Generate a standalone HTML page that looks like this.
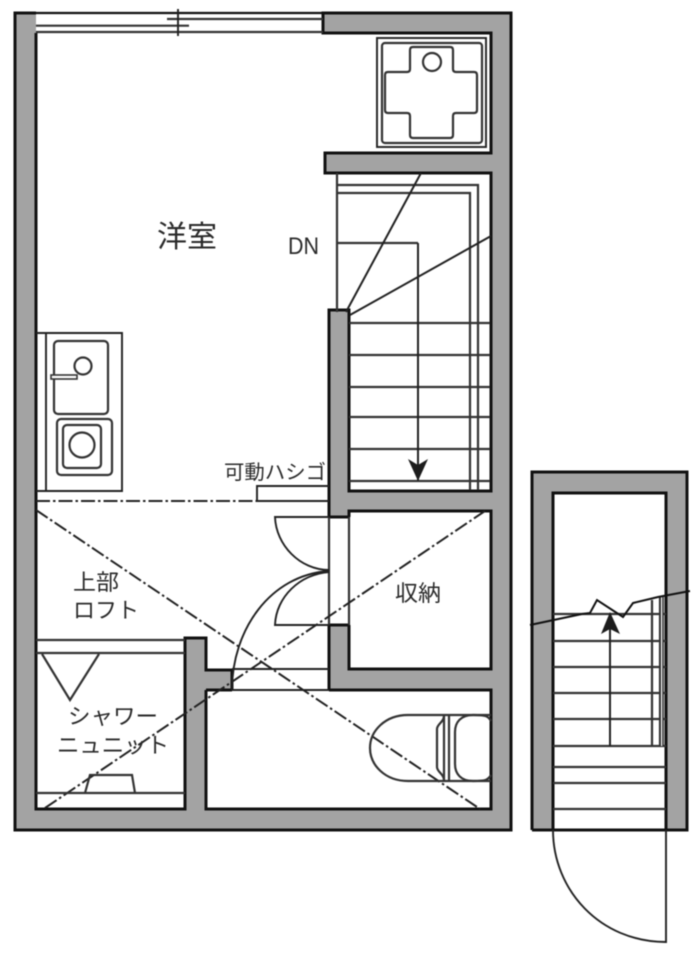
<!DOCTYPE html>
<html><head><meta charset="utf-8">
<style>
html,body{margin:0;padding:0;background:#fff;width:700px;height:953px;overflow:hidden}
svg{display:block;filter:blur(0.5px)}
text{font-family:"Liberation Sans","Noto Sans CJK JP",sans-serif;fill:#2a2a2a}
.w{fill:#a3a3a3;stroke:none}
.k{fill:none;stroke:#111;stroke-width:3}
.l{fill:none;stroke:#222;stroke-width:1.9}
.g{fill:none;stroke:#333;stroke-width:2.2}
.d{fill:none;stroke:#222;stroke-width:2;stroke-dasharray:14 3 2.5 3}
</style></head><body>
<svg width="700" height="953" viewBox="0 0 700 953" xmlns="http://www.w3.org/2000/svg">
<!-- main walls -->
<path class="w" d="M15 13H36V809H185V638H206V670H232V690H206V809H491V690H329V625H349V669H491V511H349V517H329V310H349V491H491V173H325V153H491V33H323V13H511V830H15Z"/>
<!-- wall outlines -->
<path class="k" d="M36 33V809H185V638H206V670H232V690M206 690V809H491V690H329M349 625V669H491V511H349V517M329 517V310H349V491H491V173H325V153H491V33H323V13H511V830H15V13H36"/>
<path class="k" d="M329 625H349M329 625V690M329 517H349M206 690H232"/>
<path class="l" d="M232 690H329M232 669H329"/>
<path class="g" d="M329 517V625M349 517V625"/>
<!-- window -->
<path class="k" style="stroke-width:2.2" d="M36 13H323"/>
<path class="g" d="M36 32H323M167 19H323M36 25.7H189"/>
<path class="l" d="M178 9V36"/>
<!-- shower stall -->
<rect class="l" x="377" y="38" width="109" height="109"/>
<rect class="g" x="382" y="43" width="100" height="100" rx="3"/>
<path class="g" d="M413 47H450Q453 47 453 50V69Q453 72 456 72H474Q477 72 477 75V110Q477 113 474 113H456Q453 113 453 116V135Q453 138 450 138H413Q410 138 410 135V116Q410 113 407 113H388Q385 113 385 110V75Q385 72 388 72H407Q410 72 410 69V50Q410 47 413 47Z"/>
<circle class="g" cx="432" cy="62" r="9"/>
<!-- stairs main -->
<path class="g" d="M337 173V312M337 185H478V490M337 193H470V490M337 243H418M349 323H490M349 355H490M349 387H490M349 417H490M349 449H490M349 481H490"/>
<path class="l" style="stroke-width:2" d="M418 243V480M346 312L421 173M350 315L491 236"/>
<path d="M408 459L418 465L428 459L418 481Z" fill="#1c1c1c"/>
<!-- kitchen -->
<path class="l" d="M36 333H122V491H36M46 333V491"/>
<rect class="g" x="54" y="341" width="54" height="73" rx="4"/>
<circle class="g" cx="83" cy="366" r="8.5"/>
<rect x="51" y="375" width="26" height="4" fill="#fff" stroke="#333" stroke-width="1.6"/>
<rect class="g" x="57" y="419" width="55" height="56" rx="4"/>
<rect class="g" x="63" y="425" width="38" height="43" rx="4"/>
<circle class="g" cx="82" cy="445" r="12.5"/>
<!-- ladder -->
<path class="d" d="M36 501H257"/>
<path class="l" d="M257 501V486H329M257 501H329"/>
<!-- diagonals -->
<path class="d" d="M36 510L480 809M45 808L485 511"/>
<!-- doors -->
<path class="l" d="M329 517H275C276 545 300 570 329 570"/>
<path class="l" d="M329 625H275C276 597 300 574 329 572"/>
<path class="l" d="M232 690C232 630 270 575 329 571"/>
<!-- shower unit -->
<path class="g" d="M36 640H185M36 653H185M36 793H185"/>
<path class="g" d="M42 654L70 700L99 654"/>
<path class="g" d="M85 793L90 775H132L135 793"/>
<!-- toilet -->
<path class="g" d="M491 715H408C385 715 370 731 370 748C370 765 385 781 408 781H491"/>
<path class="g" d="M444 716V780M449 716V780"/>
<path class="g" d="M444 716C444 722 437 724 437 729V767C437 772 444 774 444 780"/>
<path class="g" d="M491 721C488 716 486 715 473 715C461 715 455 722 455 732V764C455 774 461 781 473 781C486 781 488 780 491 775"/>
<!-- right building -->
<path class="w" d="M532 472H687V830H666V493H553V830H532Z"/>
<path class="k" d="M553 830V493H666V830M532 830V472H687V830H532"/>
<path class="g" d="M553 614H666M553 641H666M553 667H666M553 693H666M553 719H666M553 746H666M553 767H666M553 783H666M553 809H666"/>
<path class="g" d="M652 600V746M660 597V746"/>
<rect x="661" y="597" width="2" height="149" fill="#fff"/>
<path class="g" style="stroke-width:1.6" d="M663 597V746"/>
<path class="l" style="stroke-width:2" d="M610 746V625"/>
<path d="M610 612L620 634L610 629L601 634Z" fill="#1c1c1c"/>
<path class="k" style="stroke-width:2" d="M530 625L582 614L590 613L597 600L623 617L633 603L658 597L690 591"/>
<path class="l" d="M553 830C553 890 600 942 666 942V830"/>
<!-- labels -->
<text x="157" y="247" font-size="30" textLength="60" lengthAdjust="spacingAndGlyphs">洋室</text>
<text x="288" y="254" font-size="24" textLength="31" lengthAdjust="spacingAndGlyphs">DN</text>
<text x="224" y="479" font-size="20" textLength="102" lengthAdjust="spacingAndGlyphs">可動ハシゴ</text>
<text x="73" y="590" font-size="22" textLength="46" lengthAdjust="spacingAndGlyphs">上部</text>
<text x="73" y="618" font-size="22" textLength="66" lengthAdjust="spacingAndGlyphs">ロフト</text>
<text x="395" y="601" font-size="22" textLength="46" lengthAdjust="spacingAndGlyphs">収納</text>
<text x="68" y="724" font-size="22" textLength="90" lengthAdjust="spacingAndGlyphs">シャワー</text>
<text x="57" y="753" font-size="22" textLength="112" lengthAdjust="spacingAndGlyphs">ニュニット</text>
</svg>
</body></html>
